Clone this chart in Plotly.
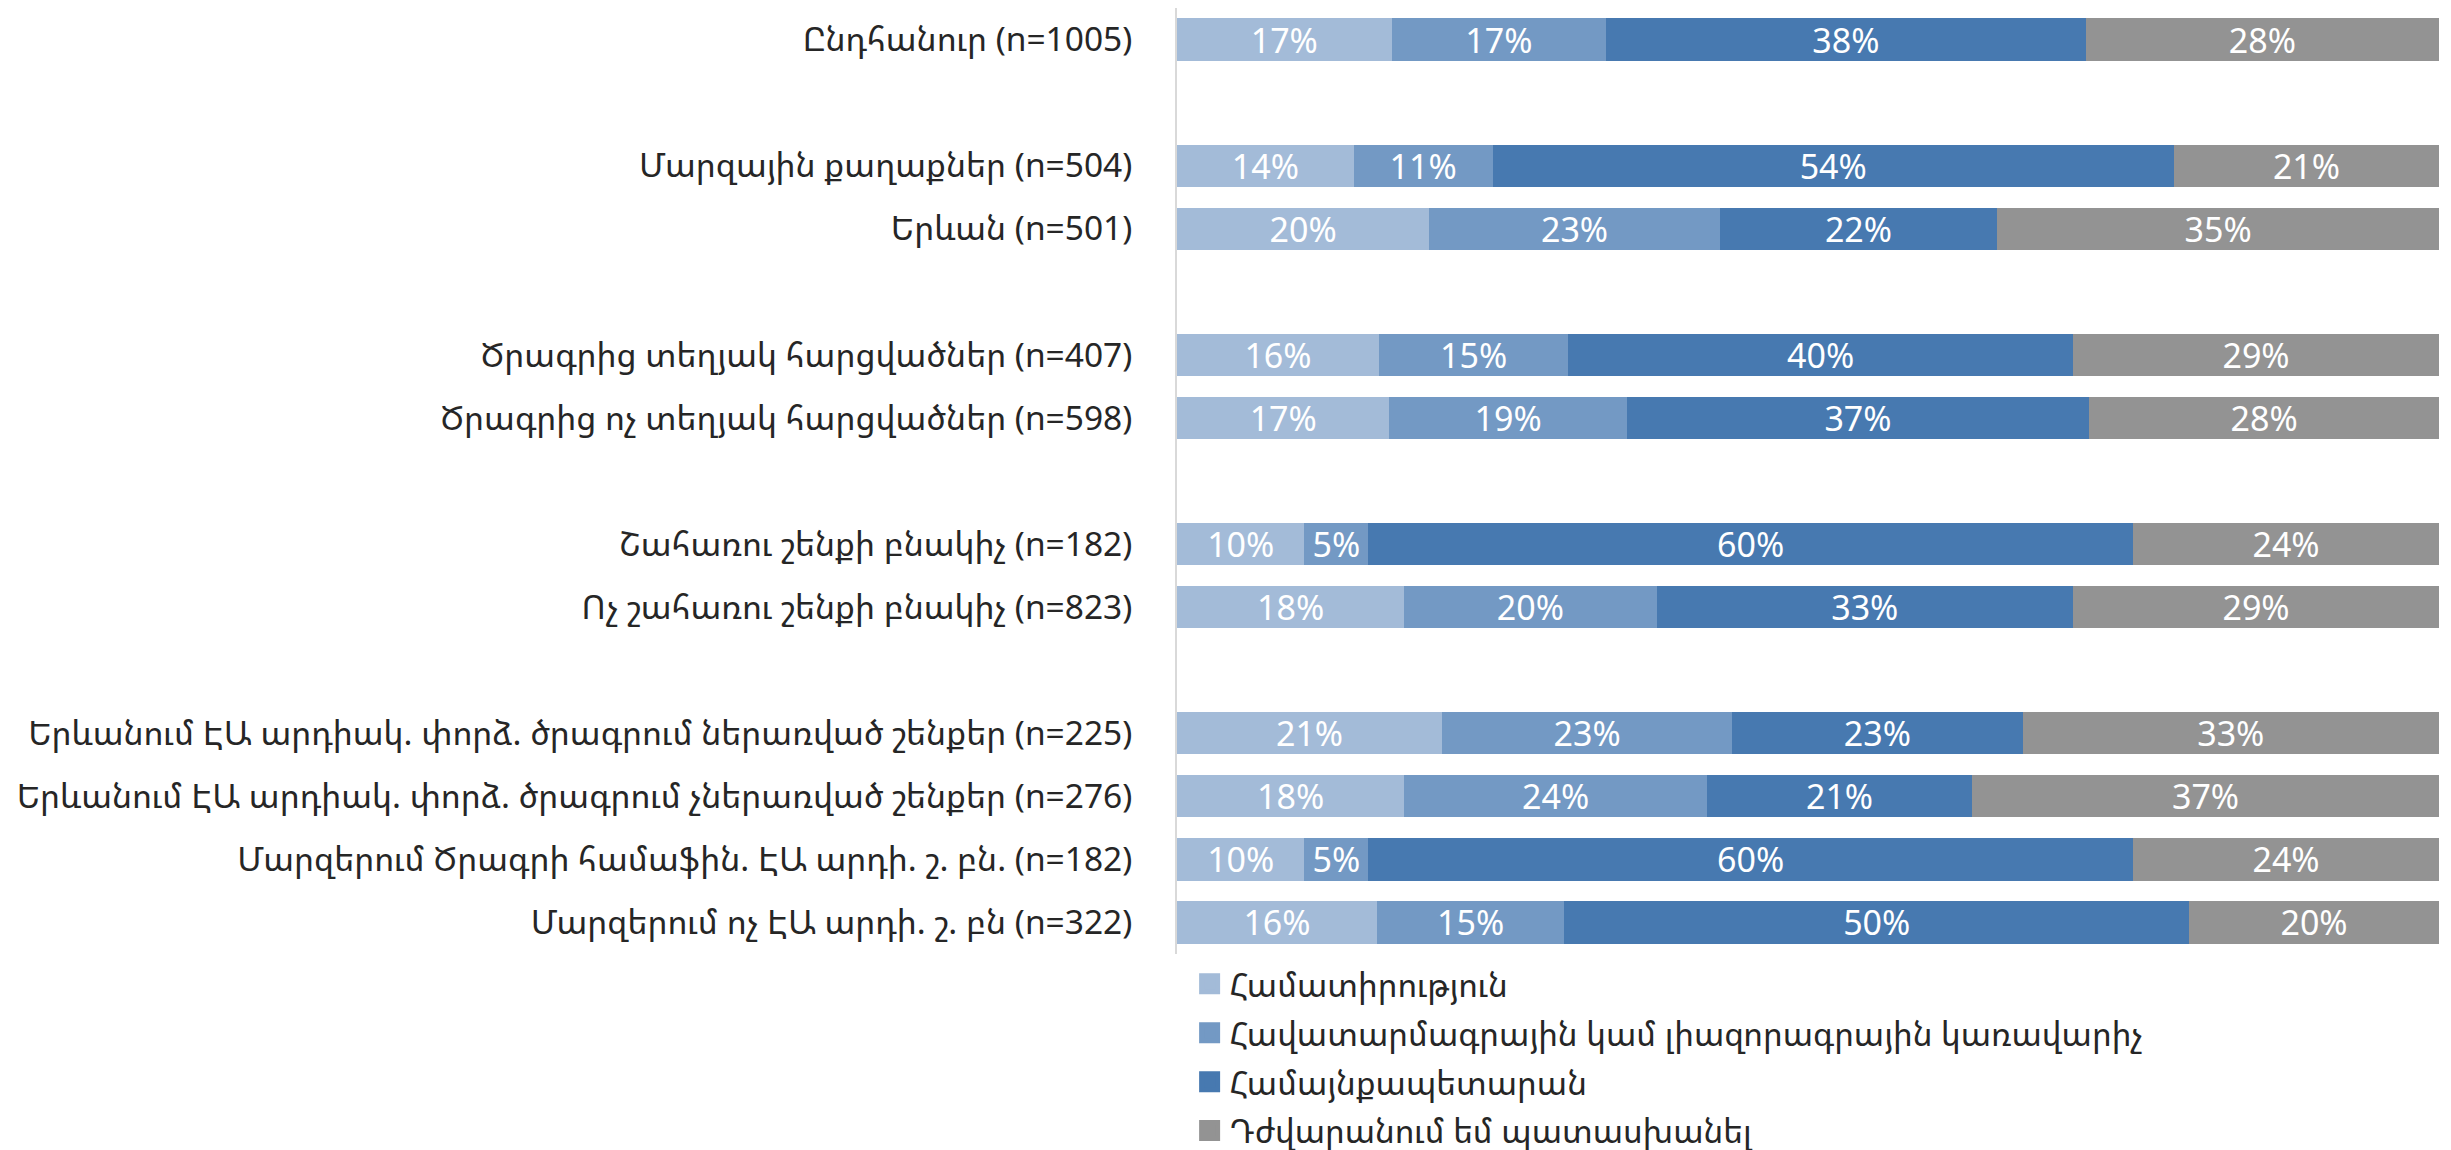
import plotly.graph_objects as go

categories = [
    "Ընդհանուր (n=1005)",
    " ",
    "Մարզային քաղաքներ (n=504)",
    "Երևան (n=501)",
    "  ",
    "Ծրագրից տեղյակ հարցվածներ (n=407)",
    "Ծրագրից ոչ տեղյակ հարցվածներ (n=598)",
    "   ",
    "Շահառու շենքի բնակիչ (n=182)",
    "Ոչ շահառու շենքի բնակիչ (n=823)",
    "    ",
    "Երևանում ԷԱ արդիակ. փորձ. ծրագրում ներառված շենքեր (n=225)",
    "Երևանում ԷԱ արդիակ. փորձ. ծրագրում չներառված շենքեր (n=276)",
    "Մարզերում Ծրագրի համաֆին. ԷԱ արդի. շ. բն. (n=182)",
    "Մարզերում ոչ ԷԱ արդի. շ. բն (n=322)",
]

series_names = [
    "Համատիրություն",
    "Հավատարմագրային կամ լիազորագրային կառավարիչ",
    "Համայնքապետարան",
    "Դժվարանում եմ պատասխանել",
]

s1 = [17, None, 14, 20, None, 16, 17, None, 10, 18, None, 21, 18, 10, 16]
s2 = [17, None, 11, 23, None, 15, 19, None, 5, 20, None, 23, 24, 5, 15]
s3 = [38, None, 54, 22, None, 40, 37, None, 60, 33, None, 23, 21, 60, 50]
s4 = [28, None, 21, 35, None, 29, 28, None, 24, 29, None, 33, 37, 24, 20]

colors = ["#A3BBD8", "#7399C4", "#4779B0", "#939393"]

FONT = "Segoe UI, Noto Sans Armenian, Noto Sans, DejaVu Sans, sans-serif"

fig = go.Figure()
for name, vals, col in zip(series_names, [s1, s2, s3, s4], colors):
    fig.add_trace(go.Bar(
        name=name,
        y=categories,
        x=vals,
        orientation="h",
        marker=dict(color=col, line=dict(width=0)),
        text=[f"{v}%" if v is not None else "" for v in vals],
        textposition="inside",
        insidetextanchor="middle",
        textfont=dict(color="white", size=34, family=FONT),
        constraintext="none",
        hoverinfo="skip",
        showlegend=False,
    ))

# legend entries (larger square swatches)
for i, (name, col) in enumerate(zip(series_names, colors)):
    fig.add_trace(go.Scatter(
        name=name,
        x=[None],
        y=[None],
        mode="markers",
        marker=dict(symbol="square", size=16, color=col, line=dict(color=col, width=5)),
        showlegend=True,
        legendgroup=f"g{i}",
        hoverinfo="skip",
    ))

n = len(categories)

fig.update_layout(
    barmode="stack",
    barnorm="percent",
    bargap=0.33,
    width=2451,
    height=1150,
    paper_bgcolor="white",
    plot_bgcolor="white",
    margin=dict(l=1169, r=20, t=0, b=204, autoexpand=False),
    font=dict(family=FONT, size=33.5, color="#262626"),
    xaxis=dict(visible=False, range=[0, 100], fixedrange=True),
    yaxis=dict(
        type="category",
        categoryorder="array",
        categoryarray=categories,
        range=[n - 0.5, -0.5],
        automargin=False,
        showline=True,
        linecolor="#D9D9D9",
        linewidth=2,
        showgrid=False,
        ticks="",
        ticklabelstandoff=36,
        tickfont=dict(size=33.5, color="#262626", family=FONT),
    ),
    legend=dict(
        orientation="v",
        x=0.01,
        xanchor="left",
        y=-0.002,
        yanchor="top",
        traceorder="grouped",
        font=dict(size=33, color="#262626", family=FONT),
        itemwidth=30,
        tracegroupgap=3,
    ),
    showlegend=True,
)

fig.write_html("out.html")
